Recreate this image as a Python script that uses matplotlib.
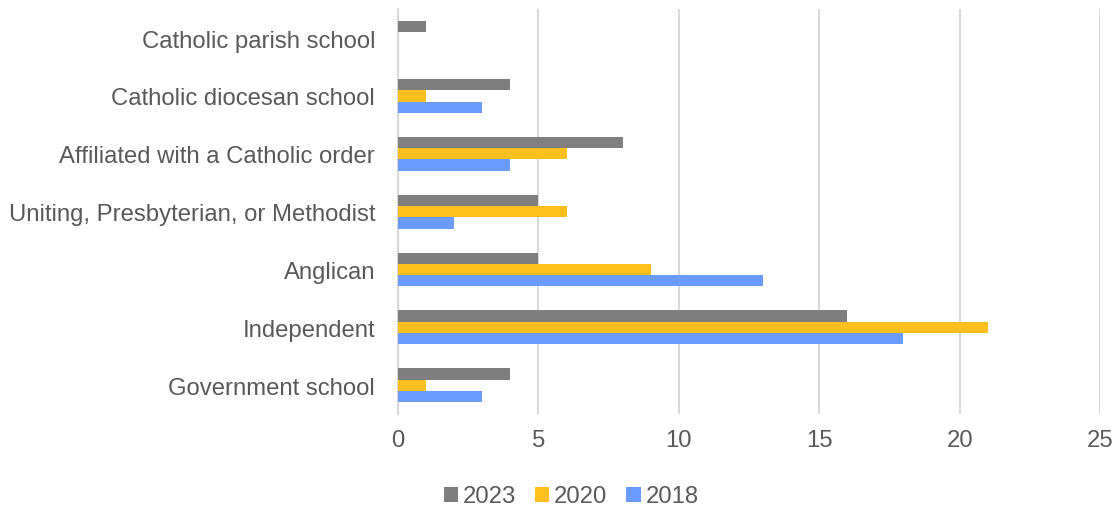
import matplotlib
matplotlib.use("Agg")
import matplotlib.pyplot as plt
import numpy as np

plt.rcParams['font.family'] = ['Liberation Sans', 'DejaVu Sans']

categories = [
    "Government school",
    "Independent",
    "Anglican",
    "Uniting, Presbyterian, or Methodist",
    "Affiliated with a Catholic order",
    "Catholic diocesan school",
    "Catholic parish school",
]
series_names = ["2023", "2020", "2018"]
values_2023 = [4, 16, 5, 5, 8, 4, 1]
values_2020 = [1, 21, 9, 6, 6, 1, 0]
values_2018 = [3, 18, 13, 2, 4, 3, 0]
colors = ["#7F7F7F", "#FFBF1F", "#6A9BFF"]
x_ticks = [0, 5, 10, 15, 20, 25]

text_color = "#595959"
grid_color = "#D9D9D9"

fig = plt.figure(figsize=(11.2, 5.1), dpi=100)
ax = fig.add_axes([0.3554, 0.186, 0.6268, 0.794])

y = np.arange(len(categories))
h = 0.195
offsets = [h, 0.0, -h]
for vals, off, col, name in zip([values_2023, values_2020, values_2018], offsets, colors, series_names):
    ax.barh(y + off, vals, height=h, color=col, label=name, zorder=3)

ax.set_xlim(0, 25)
ax.set_ylim(-0.5, len(categories) - 0.5)
ax.set_xticks(x_ticks)
ax.set_yticks(y)
ax.set_yticklabels(categories)
ax.tick_params(axis='both', length=0, labelsize=17.2, colors=text_color)
ax.tick_params(axis='x', pad=11)
ax.tick_params(axis='y', pad=16.5)
ax.grid(axis='x', color=grid_color, linewidth=1.5, zorder=0)
for s in ["top", "right", "bottom"]:
    ax.spines[s].set_visible(False)
ax.spines["left"].set_color(grid_color)
ax.spines["left"].set_linewidth(1.5)

leg = fig.legend(loc="lower center", bbox_to_anchor=(0.51, 0.003), ncol=3, frameon=False,
                 fontsize=17.2, handlelength=0.59, handleheight=0.59, handletextpad=0.2,
                 columnspacing=0.8, borderpad=0, borderaxespad=0)
for t in leg.get_texts():
    t.set_color(text_color)

fig.savefig("out.png", dpi=100)
